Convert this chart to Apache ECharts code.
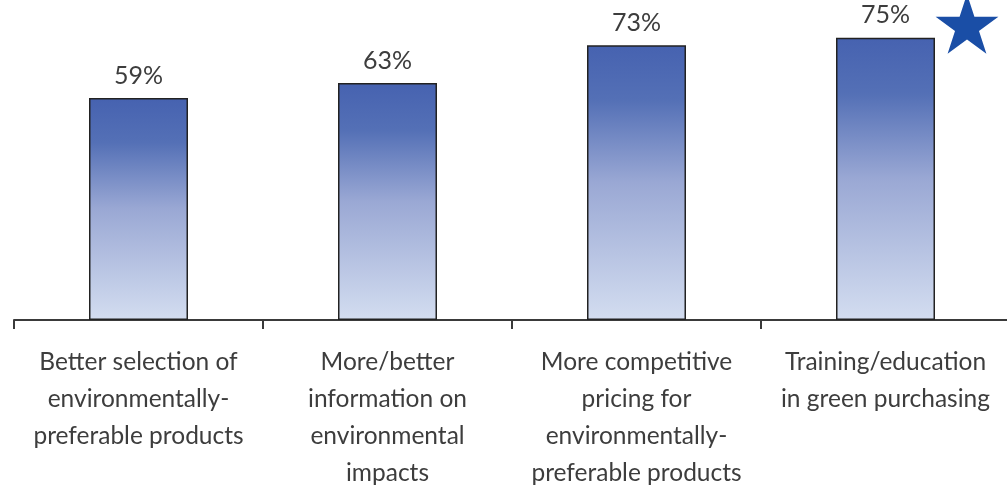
<!DOCTYPE html>
<html>
<head>
<meta charset="utf-8">
<script src="https://cdn.jsdelivr.net/npm/echarts@6/dist/echarts.min.js"></script>
<style>
  html, body { margin: 0; padding: 0; background: #fff; }
  #chart { width: 1007px; height: 486px; }
</style>
</head>
<body>
<div id="chart"></div>
<script>
var categories = [
    'Better selection of\nenvironmentally-\npreferable products',
    'More/better\ninformation on\nenvironmental\nimpacts',
    'More competitive\npricing for\nenvironmentally-\npreferable products',
    'Training/education\nin green purchasing'
];
var shares = [59, 63, 73, 75];

var chart = echarts.init(document.getElementById('chart'));

// five point star, top right corner
function starPoints(cx, cy, r) {
    var pts = [];
    for (var i = 0; i < 10; i++) {
        var rad = i % 2 === 0 ? r : r * 0.382;
        var a = -Math.PI / 2 + i * Math.PI / 5;
        pts.push([cx + rad * Math.cos(a), cy + rad * Math.sin(a)]);
    }
    return pts;
}

chart.setOption({
    animation: false,
    grid: { left: 14, right: -3, top: 19, bottom: 166, outerBoundsMode: 'none' },
    xAxis: {
        type: 'category',
        data: categories,
        axisLine: { lineStyle: { color: '#3a3a3a', width: 2 } },
        axisTick: { show: true, length: 9, lineStyle: { color: '#3a3a3a', width: 2 } },
        axisLabel: {
            interval: 0,
            margin: 24,
            color: '#3d3d3d',
            fontFamily: 'Lato',
            fontSize: 24.5,
            lineHeight: 37
        }
    },
    yAxis: {
        type: 'value',
        min: 0,
        max: 80,
        show: false,
        splitLine: { show: false }
    },
    series: [{
        type: 'bar',
        data: shares,
        barWidth: 99,
        itemStyle: {
            borderColor: '#222',
            borderWidth: 1.5,
            color: new echarts.graphic.LinearGradient(0, 0, 0, 1, [
                { offset: 0, color: '#4662b0' },
                { offset: 0.2, color: '#5470b6' },
                { offset: 0.5, color: '#9aa8d4' },
                { offset: 1, color: '#d3ddf0' }
            ])
        },
        label: {
            show: true,
            position: 'top',
            distance: 10,
            formatter: '{c}%',
            color: '#3d3d3d',
            fontFamily: 'Lato',
            fontSize: 25
        }
    }],
    graphic: [{
        type: 'polygon',
        shape: { points: starPoints(967, 27, 33) },
        style: { fill: '#1a4ea6' }
    }]
});
</script>
</body>
</html>
